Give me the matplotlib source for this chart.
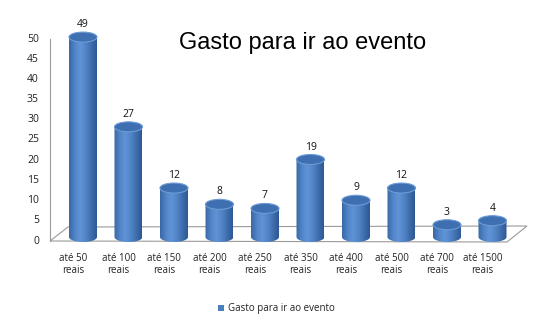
import numpy as np
import matplotlib
matplotlib.use("Agg")
import matplotlib.pyplot as plt
from matplotlib.patches import Ellipse, Polygon, PathPatch, Rectangle
from matplotlib.path import Path
from matplotlib.colors import LinearSegmentedColormap

categories = ["até 50\nreais", "até 100\nreais", "até 150\nreais", "até 200\nreais",
              "até 250\nreais", "até 350\nreais", "até 400\nreais", "até 500\nreais",
              "até 700\nreais", "até 1500\nreais"]
values = [49, 27, 12, 8, 7, 19, 9, 12, 3, 4]
yticks = [0, 5, 10, 15, 20, 25, 30, 35, 40, 45, 50]
title = "Gasto para ir ao evento"
series_name = "Gasto para ir ao evento"

W, H = 550, 328
fig = plt.figure(figsize=(W / 100, H / 100), dpi=100)
ax = fig.add_axes([0, 0, 1, 1])
X0, DX, Y0, DY = 83.0, 45.5, 237.0, 4.08
def px(x, y):
    return ((x - X0) / DX, (Y0 - y) / DY)
ax.axis("off")

gc = "#9a9a9a"
floor = [px(50, 241), px(68, 227), px(527, 226), px(507, 242)]
ax.add_patch(Polygon(floor, closed=True, fill=False, ec=gc, lw=0.8, zorder=1))
ax.plot(*zip(px(50, 39), px(50, 241)), color=gc, lw=0.8, zorder=1)

for k, t in enumerate(yticks):
    x, y = px(39, 241 - k * 20.2)
    ax.text(x, y, str(t), ha="right", va="center", fontsize=7.5,
            family="Open Sans", color="#222222")

bw = 28 / DX
eh = 10 / DY
cmap = LinearSegmentedColormap.from_list("cyl", ["#3a67a6", "#5084c6", "#6194d6", "#5285c7", "#3f6eae", "#2d5892"])
grad = np.linspace(0, 1, 64).reshape(1, -1)

for i, (v, lab) in enumerate(zip(values, categories)):
    l, r = i - bw / 2, i + bw / 2
    t = np.linspace(np.pi, 2 * np.pi, 30)
    bx = i + (bw / 2) * np.cos(t)
    by = (eh / 2) * np.sin(t)
    verts = [(l, v)] + list(zip(bx, by)) + [(r, v), (l, v)]
    codes = [Path.MOVETO] + [Path.LINETO] * (len(verts) - 2) + [Path.CLOSEPOLY]
    clip = PathPatch(Path(verts, codes), fc="none", ec="none")
    ax.add_patch(clip)
    im = ax.imshow(grad, cmap=cmap, extent=[l, r, -eh / 2, v], aspect="auto",
                   interpolation="bilinear", zorder=2)
    im.set_clip_path(clip)
    ax.add_patch(Ellipse((i, v), bw, eh, fc="#3e6fb0", ec="#6d9bd6", lw=0.8, zorder=3))
    ax.annotate(str(v), (i, v), xytext=(0, 5), textcoords="offset points",
                ha="center", va="bottom", fontsize=7.5, family="Open Sans", color="#111111")
    cx, cy = px(X0 + DX * i - 10, 253)
    ax.text(cx, cy, lab, ha="center", va="top", fontsize=7, family="Open Sans",
            color="#222222", linespacing=1.15)

ax.set_xlim(px(0, 0)[0], px(W, 0)[0])
ax.set_ylim(px(0, H)[1], px(0, 0)[1])

tx, ty = px(303, 43)
ax.text(tx, ty, title, ha="center", va="center", fontsize=17, family="Liberation Sans", color="#000000")

lx, ly = px(218, 311)
ax.add_patch(Rectangle((lx, ly), 6 / DX, 6 / DY, fc="#4a7ebf", ec="none"))
tx2, ty2 = px(228, 308)
ax.text(tx2, ty2, series_name, ha="left", va="center", fontsize=7, family="Open Sans", color="#222222")

fig.savefig("out.png", dpi=100)
